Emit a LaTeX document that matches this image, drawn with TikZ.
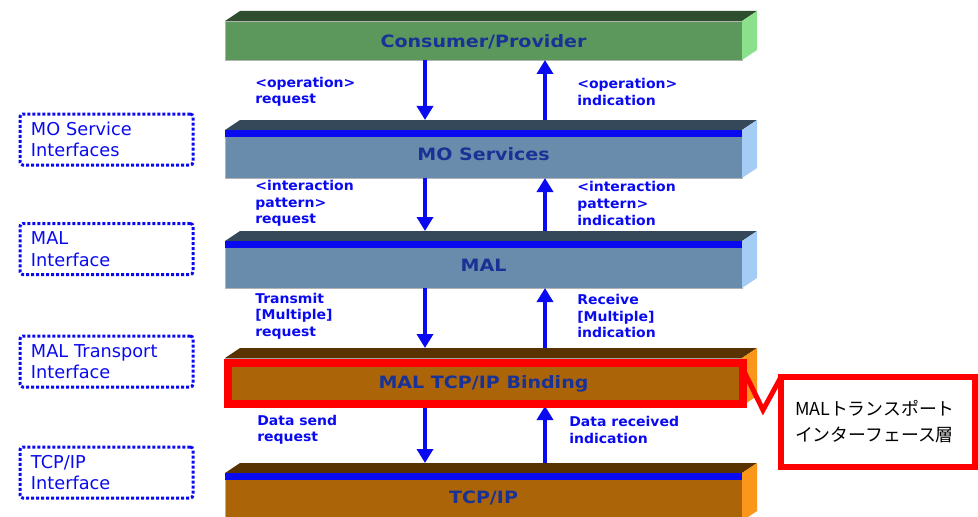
\documentclass[tikz,border=0pt]{standalone}
\usepackage{fontspec}
\usepackage{tikz}
\usetikzlibrary{arrows.meta}

\newfontfamily\lyrfont[FakeStretch=1.12]{DejaVu Sans Bold}
\newfontfamily\lblfont[FakeStretch=1.04]{DejaVu Sans Bold}
\newfontfamily\sidefont{DejaVu Sans}
\newfontfamily\jpfont{Noto Sans CJK JP}

\definecolor{cpfront}{RGB}{92,152,92}
\definecolor{cptop}{RGB}{46,78,46}
\definecolor{cpside}{RGB}{139,224,139}
\definecolor{mofront}{RGB}{106,140,172}
\definecolor{motop}{RGB}{53,72,90}
\definecolor{moside}{RGB}{165,204,245}
\definecolor{bfront}{RGB}{172,100,8}
\definecolor{btop}{RGB}{88,50,0}
\definecolor{bside}{RGB}{250,150,25}
\definecolor{lyrtext}{RGB}{25,50,150}
\definecolor{flowblue}{RGB}{10,10,240}
\definecolor{hlred}{RGB}{255,0,0}

\begin{document}
\begin{tikzpicture}[x=0.75pt, y=-0.75pt,
    layer/.style={minimum width=387.75pt, inner sep=0pt, outer sep=0pt, draw=gray!60, line width=0.4pt,
        text height=11pt, text depth=1pt,
        text=lyrtext, font=\lyrfont\fontsize{12.75pt}{15pt}\selectfont},
    arr/.style={draw=flowblue, line width=3pt, -{Triangle[width=12pt, length=10.5pt]}},
    lbl/.style={anchor=west, align=left, inner sep=0pt, text=flowblue,
        font=\lblfont\fontsize{10.1pt}{12.4pt}\selectfont},
    iface/.style={draw=flowblue, line width=2.25pt, dash pattern=on 2.25pt off 1.5pt, rounded corners=2pt,
        anchor=west, outer sep=0pt, text width=113.25pt, inner xsep=8.25pt, inner ysep=0pt, minimum height=38.25pt,
        align=left, text=flowblue, font=\sidefont\fontsize{13.3pt}{16.1pt}\selectfont}]
    \useasboundingbox (0,0) rectangle (978,517);

    % Layers (front faces)
    \node[layer, fill=cpfront, minimum height=29.25pt] (cp) at (483.5,40.5) {Consumer/Provider};
    \node[layer, fill=mofront, minimum height=36pt] (mos) at (483.5,154) {MO Services};
    \node[layer, fill=mofront, minimum height=35.25pt] (mal) at (483.5,264.5) {MAL};
    \node[layer, fill=bfront, minimum height=36pt] (bind) at (483.5,382) {MAL TCP/IP Binding};
    \node[layer, fill=bfront, minimum height=36pt] (tcp) at (483.5,497) {TCP/IP};

    % Top and side faces
    \foreach \n/\t/\s in {cp/cptop/cpside, mos/motop/moside, mal/motop/moside, bind/btop/bside, tcp/btop/bside} {
        \fill[\t] (\n.north west) -- ++(15,-10) -- ++(517,0) -- (\n.north east) -- cycle;
        \fill[\s] (\n.north east) -- ++(15,-10) -- ([xshift=11.25pt, yshift=7.5pt]\n.south east) -- (\n.south east) -- cycle;
    }

    % Blue stripes
    \foreach \n in {mos, mal, tcp}
        \fill[flowblue] (\n.north west) rectangle ([yshift=-5.25pt]\n.north east);

    % Request / indication arrows
    \foreach \a/\b in {cp/mos, mos/mal, mal/bind, bind/tcp} {
        \draw[arr] ([xshift=-43.875pt]\a.south) -- ([xshift=-43.875pt, yshift=7.5pt]\b.north);
        \draw[arr] ([xshift=46.125pt, yshift=7.5pt]\b.north) -- ([xshift=46.125pt]\a.south);
    }

    % Arrow labels
    \node[lbl] (opreq) at (255,92) {<operation>\\request};
    \node[lbl] (opind) at (577,92) {<operation>\\indication};
    \node[lbl] (ipreq) at (255,203.5) {<interaction\\pattern>\\request};
    \node[lbl] (ipind) at (577,203.5) {<interaction\\pattern>\\indication};
    \node[lbl] (txreq) at (255,316) {Transmit\\{[Multiple]}\\request};
    \node[lbl] (rxind) at (577,316) {Receive\\{[Multiple]}\\indication};
    \node[lbl] (dsreq) at (257,430) {Data send\\request};
    \node[lbl] (drind) at (569,430) {Data received\\indication};

    % Interfaces
    \node[iface] (ifmo) at (20,139.5) {MO Service\\Interfaces};
    \node[iface] (ifmal) at (20,249) {MAL\\Interface};
    \node[iface] (iftr) at (20,361.5) {MAL Transport\\Interface};
    \node[iface] (iftcp) at (20,472.5) {TCP/IP\\Interface};

    % Highlight and callout
    \node[draw=hlred, line width=6pt, minimum width=386.6pt, minimum height=30.4pt, inner sep=0pt, outer sep=0pt] (hl) at (485.75,383.25) {};
    \node[draw=hlred, line width=4pt, minimum width=145.5pt, minimum height=67.5pt, outer sep=0pt,
        inner xsep=10.5pt, text width=124.5pt, align=left,
        font=\jpfont\fontsize{13.4pt}{19.5pt}\selectfont] (note) at (878,422) {MALトランスポート\\インターフェース層};
    \coordinate (tip) at (763,410);
    \draw[hlred, line width=3.75pt] ([yshift=9.75pt]hl.east) -- (tip) -- (note.north west);
\end{tikzpicture}
\end{document}
